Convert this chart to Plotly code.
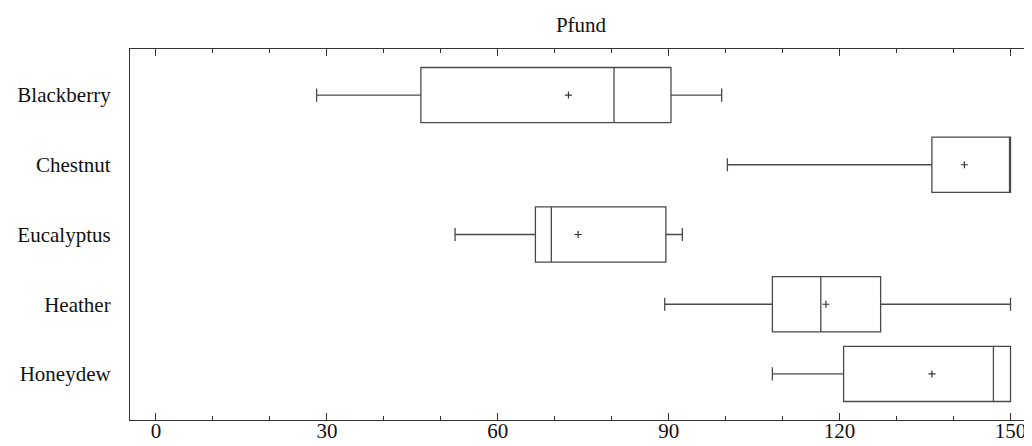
import plotly.graph_objects as go

categories = ["Blackberry", "Chestnut", "Eucalyptus", "Heather", "Honeydew"]
lower_whisker = [28.2, 100.3, 52.5, 89.3, 108.2]
q1_values = [46.5, 136.2, 66.6, 108.2, 120.7]
median_values = [80.4, 150.0, 69.4, 116.7, 147.0]
q3_values = [90.4, 150.0, 89.5, 127.2, 150.0]
upper_whisker = [99.3, 150.0, 92.4, 150.0, 150.0]
mean_values = [72.4, 141.9, 74.1, 117.6, 136.2]
x_tick_values = [0, 30, 60, 90, 120, 150]

FONT = "Liberation Serif, Times New Roman, serif"

fig = go.Figure()
fig.add_trace(go.Box(
    y=categories,
    q1=q1_values,
    median=median_values,
    q3=q3_values,
    lowerfence=lower_whisker,
    upperfence=upper_whisker,
    orientation="h",
    width=0.79,
    whiskerwidth=0.24,
    fillcolor="white",
    line=dict(color="#4a4a4a", width=1.3),
    boxpoints=False,
    showlegend=False,
    hoverinfo="skip",
))
fig.add_trace(go.Scatter(
    x=mean_values,
    y=categories,
    mode="markers",
    marker=dict(symbol="cross-thin", size=5, line=dict(color="#333333", width=1.2)),
    showlegend=False,
    hoverinfo="skip",
))

# page body adds an 8px offset, so the figure is sized to fit the window
fig.update_layout(
    width=1024,
    height=438,
    margin=dict(l=122, r=0, t=41, b=26, autoexpand=False),
    paper_bgcolor="white",
    plot_bgcolor="white",
    font=dict(family=FONT, size=21, color="#111111"),
    title=dict(text="Pfund", x=0.5, xref="paper", xanchor="center",
               yref="container", y=0.961, yanchor="middle",
               font=dict(family=FONT, size=21, color="#111111")),
)
fig.update_xaxes(
    range=[-4.56, 153.77],
    tickvals=x_tick_values,
    ticktext=[str(v) for v in x_tick_values],
    ticks="inside",
    ticklen=7,
    tickwidth=1.2,
    tickcolor="#333333",
    minor=dict(dtick=10, tick0=0, ticks="inside", ticklen=4, tickwidth=1, tickcolor="#333333", showgrid=False),
    showline=True,
    linecolor="#333333",
    linewidth=1.3,
    mirror="ticks",
    showgrid=False,
    zeroline=False,
    automargin=False,
    ticklabelstandoff=-8,
    tickfont=dict(family=FONT, size=21, color="#111111"),
)
fig.update_yaxes(
    type="category",
    categoryorder="array",
    categoryarray=categories,
    range=[4.66, -0.66],
    showline=True,
    linecolor="#333333",
    linewidth=1.3,
    mirror=False,
    ticks="outside",
    ticklen=14,
    tickcolor="rgba(0,0,0,0)",
    showgrid=False,
    zeroline=False,
    automargin=False,
    tickfont=dict(family=FONT, size=21, color="#111111"),
)

fig.write_html("out.html")
